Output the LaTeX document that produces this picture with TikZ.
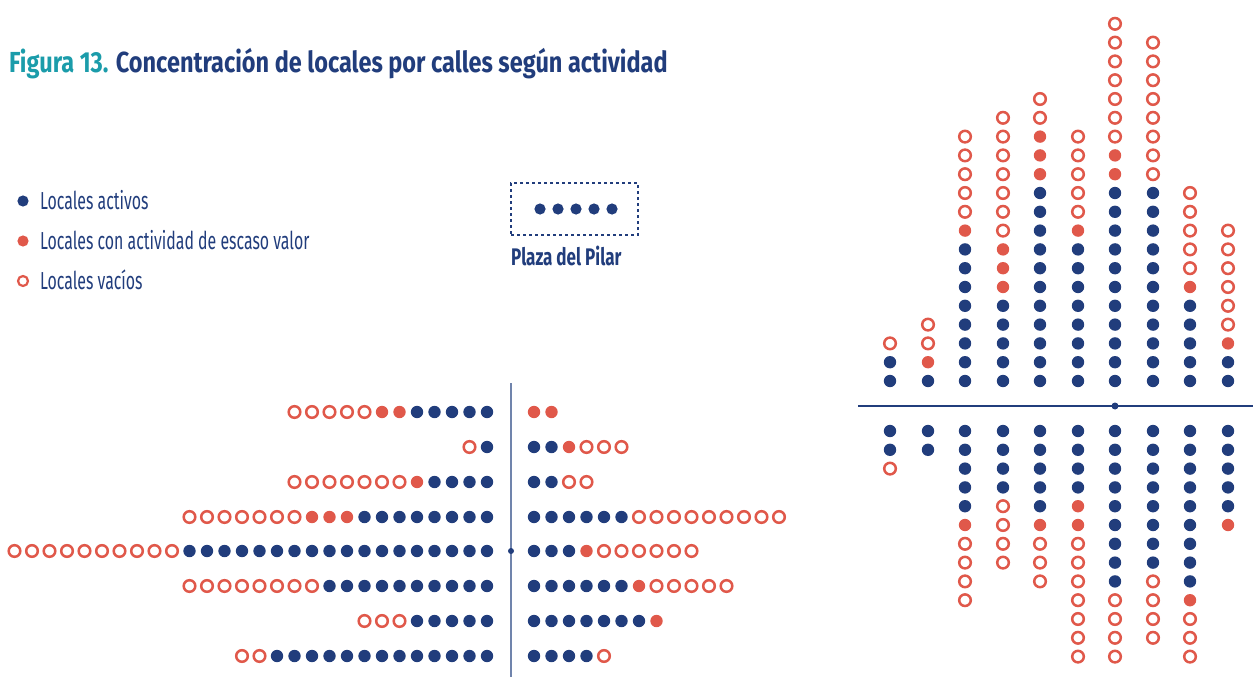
\documentclass[tikz,border=0pt]{standalone}
\usepackage{fontspec}
\setmainfont{Fira Sans}
\newfontfamily\titular{Fira Sans}[FakeStretch=0.81]
\newfontfamily\rotulo{Fira Sans}[FakeStretch=0.71]
\newfontfamily\leyenda{Fira Sans}[FakeStretch=0.645]
\definecolor{azul}{RGB}{33,61,124}
\definecolor{rojo}{RGB}{224,88,74}
\definecolor{turquesa}{RGB}{27,156,170}
\definecolor{gris}{RGB}{112,132,172}

\begin{document}
\begin{tikzpicture}
	[x = 1pt, y = -1pt,
	activo/.style = {fill = azul, radius = 6.2pt},
	escaso/.style = {fill = rojo, radius = 6.2pt},
	vacio/.style = {draw = rojo, line width = 2.5pt, radius = 5.8pt},
	texto/.style = {anchor = base west, inner sep = 0pt, text = azul, font = \leyenda\fontsize{24.6}{24.6}\selectfont}]
	\useasboundingbox (0,0) rectangle (1253,677);
	\node [texto, font = \titular\bfseries\fontsize{29}{29}\selectfont] (titulo) at (9,73) {\textcolor{turquesa}{Figura 13.} Concentración de locales por calles según actividad};
	% leyenda
	\path [activo, radius = 5.6pt] (23,201) circle [];
	\path [escaso, radius = 5.6pt] (23,241) circle [];
	\path [vacio, radius = 5pt, line width = 2.2pt] (23,281) circle [];
	\node [texto] (activos) at (40,209) {Locales activos};
	\node [texto] (escasos) at (40,249) {Locales con actividad de escaso valor};
	\node [texto] (vacios) at (40,289) {Locales vacíos};
	% plaza
	\node [draw = azul, line width = 1.5pt, dash pattern = on 3pt off 3pt, minimum width = 127pt, minimum height = 52pt] (plaza) at (574.5,209) {};
	\foreach \i in {0,...,4}
		\path [activo, radius = 5.6pt] (540+\i*18,209) circle [];
	\node [texto, font = \rotulo\bfseries\fontsize{24}{24}\selectfont] (pilar) at (511,265) {Plaza del Pilar};
	% ejes
	\draw [gris, line width = 2pt] (511,383) -- (511,677);
	\fill [azul] (511,551) circle (3pt);
	\draw [azul, line width = 1.5pt] (858,406) -- (1253,406);
	\fill [azul] (1115,406) circle (3.5pt);
	% x/y/dx/dy/activos/escasos/vacios
	\foreach \x/\y/\dx/\dy/\act/\esc/\vac in {
		487/412/-17.5/0/5/2/5, 487/447/-17.5/0/1/0/1, 487/482/-17.5/0/4/1/7, 487/517/-17.5/0/8/3/7,
		487/551/-17.5/0/18/0/10, 487/586/-17.5/0/10/0/8, 487/621/-17.5/0/5/0/3, 487/656/-17.5/0/13/0/2,
		534/412/17.5/0/0/2/0, 534/447/17.5/0/2/1/3, 534/482/17.5/0/2/0/2, 534/517/17.5/0/6/0/9,
		534/551/17.5/0/3/1/6, 534/586/17.5/0/6/1/5, 534/621/17.5/0/7/1/0, 534/656/17.5/0/4/0/1,
		890/381/0/-18.8/2/0/1, 928/381/0/-18.8/1/1/2, 965/381/0/-18.8/8/1/5, 1003/381/0/-18.8/5/3/7,
		1040/381/0/-18.8/11/3/2, 1078/381/0/-18.8/8/1/5, 1115/381/0/-18.8/11/2/7, 1153/381/0/-18.8/11/0/8,
		1190/381/0/-18.8/5/1/5, 1228/381/0/-18.8/2/1/6,
		890/431/0/18.8/2/0/1, 928/431/0/18.8/2/0/0, 965/431/0/18.8/5/1/4, 1003/431/0/18.8/4/0/4,
		1040/431/0/18.8/5/1/3, 1078/431/0/18.8/4/2/7, 1115/431/0/18.8/9/0/4, 1153/431/0/18.8/8/0/4,
		1190/431/0/18.8/9/1/3, 1228/431/0/18.8/5/1/0}{
		\pgfmathtruncatemacro\n{\act+\esc+\vac}
		\foreach \i in {1,...,\n}{
			\ifnum\i>\act \def\tipo{escaso}\else \def\tipo{activo}\fi
			\ifnum\i>\numexpr\act+\esc\relax \def\tipo{vacio}\fi
			\path [\tipo] ({\x+(\i-1)*\dx},{\y+(\i-1)*\dy}) circle [];
		}
	}
\end{tikzpicture}
\end{document}
